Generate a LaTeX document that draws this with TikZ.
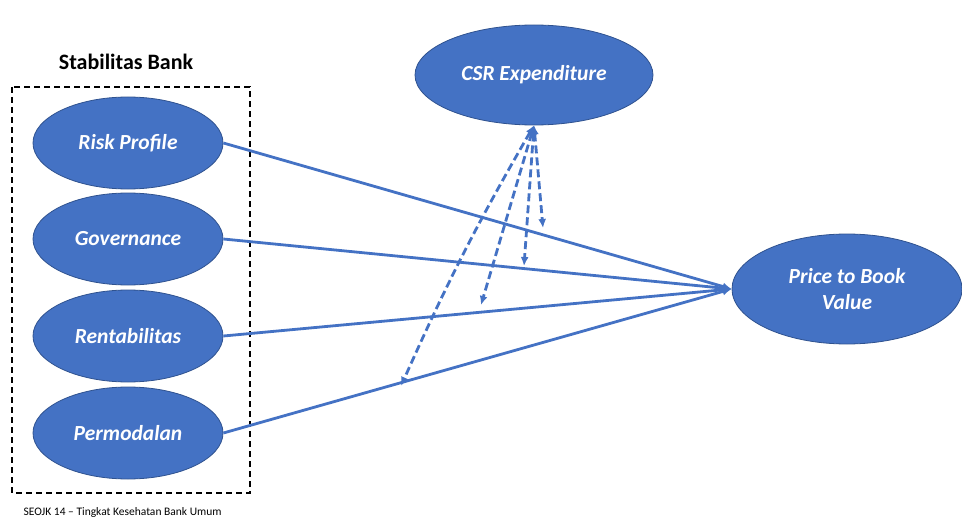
\documentclass[tikz,border=0pt]{standalone}
\usepackage{fontspec}
\setmainfont{Carlito}
\usetikzlibrary{shapes.geometric,arrows.meta}
\definecolor{ofblue}{HTML}{4472C4}
\definecolor{ofedge}{HTML}{2F528F}
\begin{document}
\begin{tikzpicture}[x=1pt,y=-1pt,>={Latex[length=9pt,width=8pt]},
  var/.style={ellipse, fill=ofblue, draw=ofedge, line width=0.8pt, inner sep=0pt,
    text=white, align=center, font=\fontsize{21.5}{26}\selectfont\bfseries\itshape,
    minimum width=190pt, minimum height=92pt},
  link/.style={ofblue, line width=2.8pt},
  moder/.style={ofblue, line width=2.8pt, dash pattern=on 8pt off 4pt}]
\useasboundingbox (0,0) rectangle (962,519);
% group box
\draw[line width=1.6pt, dash pattern=on 6pt off 4pt] (12,87) rectangle (250,493);
\node[font=\fontsize{22}{26}\selectfont\bfseries] (title) at (126,62) {Stabilitas Bank};
\node[var] (rp) at (128,143) {Risk Profile};
\node[var] (gov) at (128,239) {Governance};
\node[var] (rent) at (128,336) {Rentabilitas};
\node[var] (perm) at (128,433) {Permodalan};
\node[var, minimum width=238pt, minimum height=100pt] (csr) at (534,75) {CSR Expenditure};
\node[var, minimum width=230pt, minimum height=110pt] (pbv) at (847,289) {Price to Book\\Value};
\node[anchor=base west, font=\fontsize{11.5}{14}\selectfont] (src) at (20,515) {SEOJK 14 -- Tingkat Kesehatan Bank Umum};
% direct effects
\draw[link,->] (rp.east) -- (pbv.west);
\draw[link,->] (gov.east) -- (pbv.west);
\draw[link,->] (rent.east) -- (pbv.west);
\draw[link,->] (perm.east) -- (pbv.west);
% moderation
\coordinate (m1) at (543,228);
\coordinate (m2) at (524,266);
\coordinate (m3) at (481,305);
\coordinate (m4) at (401,386);
\draw[moder,<->] (csr.south) -- (m1);
\draw[moder,<->] (csr.south) -- (m2);
\draw[moder,<->] (csr.south) -- (m3);
\draw[moder,<->] (csr.south) to[bend right=3] (m4);
\end{tikzpicture}
\end{document}
